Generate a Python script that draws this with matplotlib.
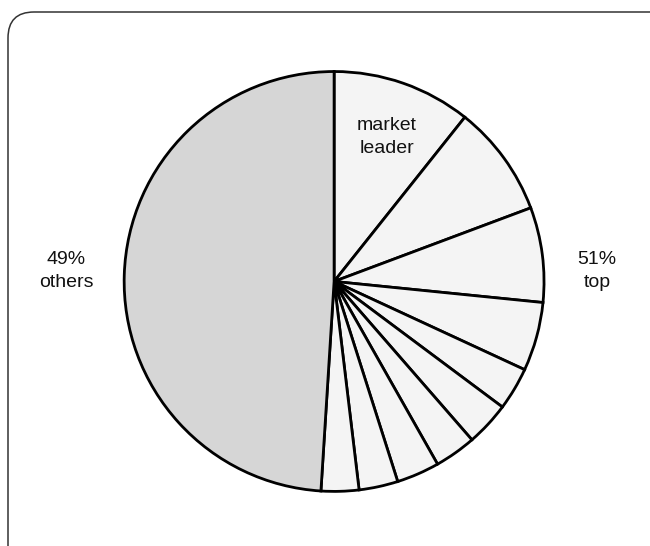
import matplotlib.pyplot as plt
from matplotlib.patches import FancyBboxPatch

plt.rcParams['font.family'] = ['Liberation Sans', 'DejaVu Sans']

# parts du marché (%) : les dix premiers, puis le reste
top_shares = [10.7, 8.6, 7.3, 5.3, 3.3, 3.4, 3.2, 3.3, 3.0, 2.9]
others_share = 49
leader_label = "market\nleader"

values = top_shares + [others_share]
colors = ['#f4f4f4'] * len(top_shares) + ['#d6d6d6']

fig = plt.figure(figsize=(6.5, 5.46), dpi=100)

# cadre arrondi (coupé à droite et en bas)
frame = FancyBboxPatch((0.08, -0.6), 7.0, 5.94,
                       boxstyle="round,pad=0,rounding_size=0.26",
                       transform=fig.dpi_scale_trans, fill=False,
                       edgecolor='#333333', linewidth=1.1)
fig.patches.append(frame)

ax = fig.add_axes([0.191, 0.100, 0.646, 0.769])
ax.pie(values, colors=colors, startangle=90, counterclock=False,
       wedgeprops=dict(edgecolor='black', linewidth=2.0))
ax.set_xlim(-1, 1)
ax.set_ylim(-1, 1)
ax.set_aspect('equal')

txt = dict(fontsize=14, ha='center', va='center', linespacing=1.45, color='#111111')
ax.text(0.252, 0.69, leader_label, **txt)
ax.text(1.252, 0.05, f"{round(sum(top_shares))}%\ntop", **txt)
ax.text(-1.276, 0.05, f"{others_share}%\nothers", **txt)

fig.savefig('out.png', dpi=100)
